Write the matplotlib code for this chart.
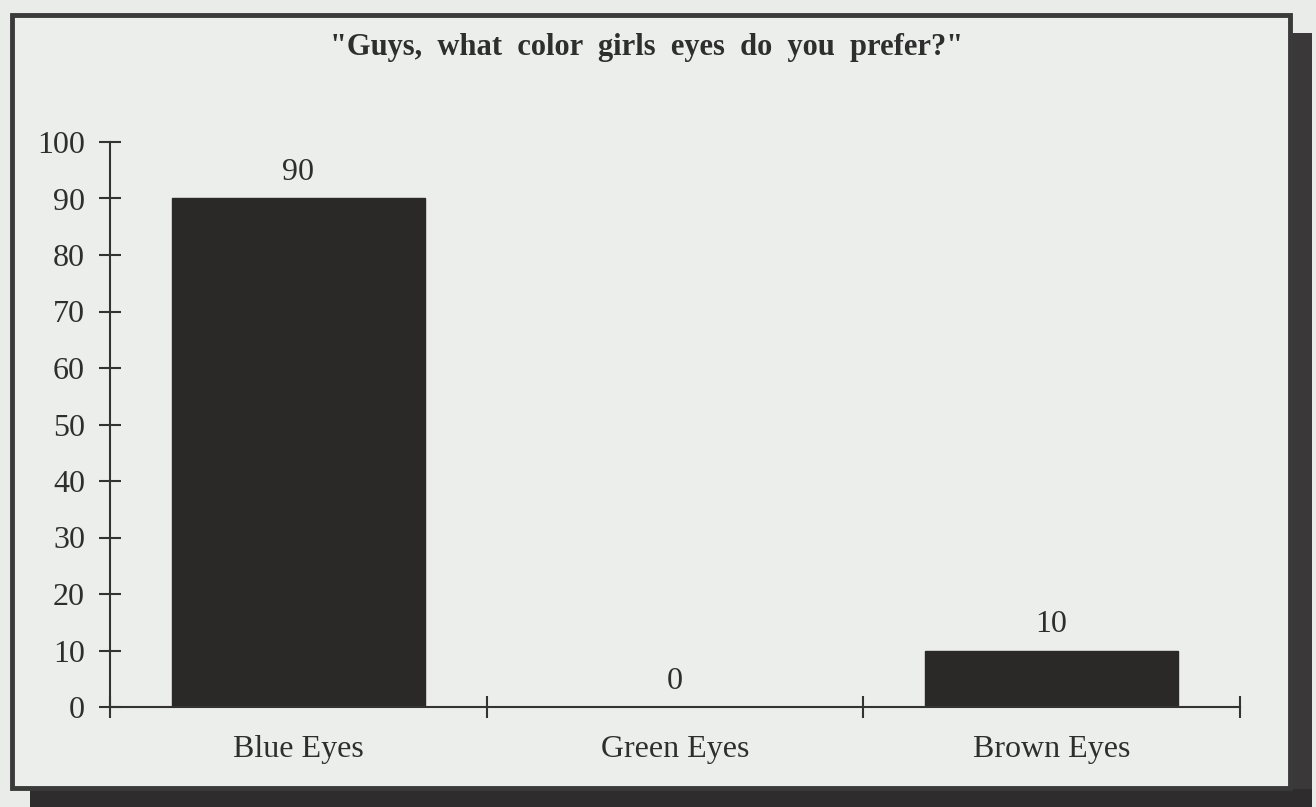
import matplotlib
matplotlib.use("Agg")
import matplotlib.pyplot as plt
from matplotlib.patches import Rectangle

categories = ["Blue Eyes", "Green Eyes", "Brown Eyes"]
values = [90, 0, 10]
yticks = [0, 10, 20, 30, 40, 50, 60, 70, 80, 90, 100]
title = '"Guys,  what  color  girls  eyes  do  you  prefer?"'

W, H = 1316, 807
bg = "#e9ece9"
dark = "#2b2828"
txt = "#2e2e2e"

plt.rcParams['font.family'] = ['Liberation Serif', 'DejaVu Serif']

fig = plt.figure(figsize=(W / 100, H / 100), dpi=100, facecolor=bg)

def px(x0, y0, x1, y1, **kw):
    r = Rectangle((x0 / W, 1 - y1 / H), (x1 - x0) / W, (y1 - y0) / H,
                  transform=fig.transFigure, **kw)
    fig.patches.append(r)

# drop shadow
px(1290, 33, 1312, 807, facecolor="#3a3838", edgecolor="none", zorder=0)
px(30, 789, 1312, 807, facecolor="#2e2c2c", edgecolor="none", zorder=0)
# frame
px(12, 15, 1290, 788, facecolor="#eceeec", edgecolor="#3b3a3a", linewidth=3.5, zorder=1)

ax = fig.add_axes([110 / W, 1 - 707 / H, (1240 - 110) / W, (707 - 142) / H])
ax.set_facecolor("none")
ax.set_zorder(2)

x = list(range(len(categories)))
ax.bar(x, values, width=0.67, color=dark, edgecolor=dark, zorder=2)
for xi, v in zip(x, values):
    ax.annotate(str(v), (xi, v), xytext=(0, 8), textcoords="offset points",
                ha="center", va="bottom", fontsize=23, color=txt)

ax.set_xlim(-0.5, len(categories) - 0.5)
ax.set_ylim(0, 100)
ax.set_yticks(yticks)
ax.set_yticklabels([str(t) for t in yticks], fontsize=23, color=txt)
ax.set_xticks(x)
ax.set_xticklabels(categories, fontsize=23, color=txt)
ax.set_xticks([i - 0.5 for i in range(len(categories) + 1)], minor=True)
ax.tick_params(axis="x", which="major", length=0, pad=20)
ax.tick_params(axis="x", which="minor", direction="inout", length=16, width=1.5, color="#333")
ax.tick_params(axis="y", direction="inout", length=16, width=1.5, color="#333", pad=10)
for s in ["top", "right"]:
    ax.spines[s].set_visible(False)
for s in ["left", "bottom"]:
    ax.spines[s].set_linewidth(1.5)
    ax.spines[s].set_color("#333")

fig.text(647 / W, 1 - 48 / H, title, ha="center", va="center", fontsize=22,
         fontweight="bold", color=txt, zorder=3)

fig.savefig("out.png", dpi=100, facecolor=bg)
